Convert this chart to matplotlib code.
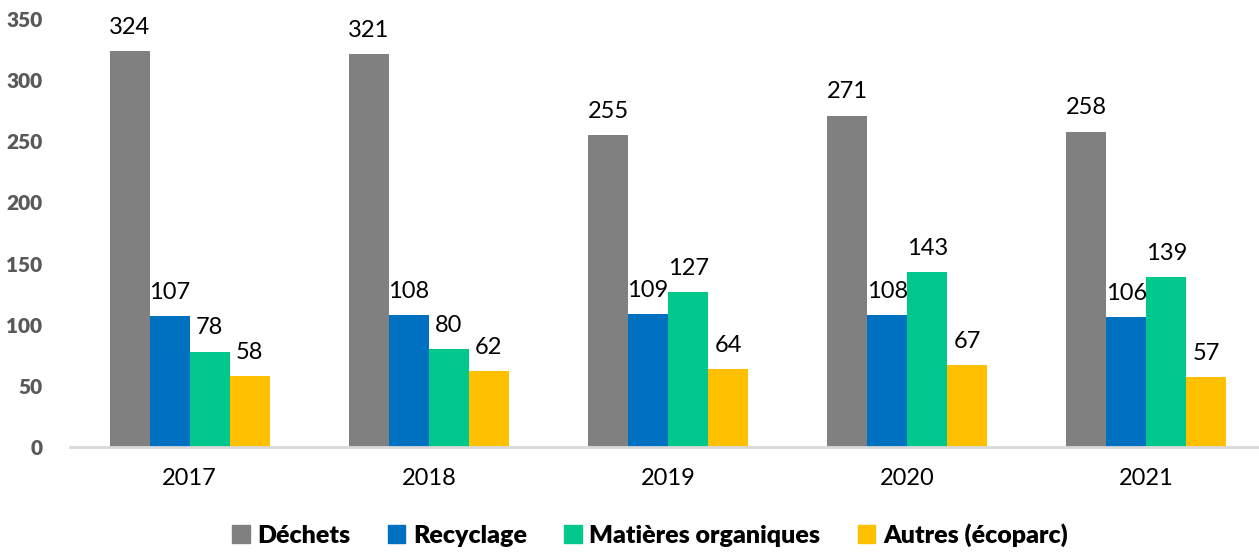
import numpy as np
import matplotlib.pyplot as plt
from matplotlib.patches import Patch

plt.rcParams['font.family'] = ['Lato', 'DejaVu Sans']

years = ["2017", "2018", "2019", "2020", "2021"]
series = ["Déchets", "Recyclage", "Matières organiques", "Autres (écoparc)"]
dechets = [324, 321, 255, 271, 258]
recyclage = [107, 108, 109, 108, 106]
organiques = [78, 80, 127, 143, 139]
autres = [58, 62, 64, 67, 57]
colors = ["#808080", "#0070C0", "#00C78C", "#FFC000"]

W, H = 1259, 552
fig = plt.figure(figsize=(W / 100, H / 100), dpi=100)
ax = fig.add_axes([70 / W, (H - 447) / H, 1196 / W, 428 / H])

x = np.arange(len(years))
bw = 40 / 239
for i, (vals, c) in enumerate(zip([dechets, recyclage, organiques, autres], colors)):
    pos = x + (i - 1.5) * bw
    bars = ax.bar(pos, vals, width=bw, color=c, linewidth=0)
    for b, v in zip(bars, vals):
        ax.annotate(str(v), (b.get_x() + b.get_width() / 2, v), xytext=(0, 9.5),
                    textcoords="offset points", ha="center", va="bottom",
                    fontsize=17, color="black")

ax.set_xlim(-0.5, 4.5)
ax.set_ylim(0, 350)
ax.set_yticks(range(0, 351, 50))
ax.set_xticks(x)
ax.set_xticklabels(years)
for s in ["top", "right", "left"]:
    ax.spines[s].set_visible(False)
ax.spines["bottom"].set_color("#D9D9D9")
ax.spines["bottom"].set_linewidth(2)
ax.tick_params(axis="x", length=0, pad=15, labelsize=17, labelcolor="black")
ax.tick_params(axis="y", length=0, pad=20, labelsize=15, labelcolor="#595959")
for t in ax.get_yticklabels():
    t.set_fontweight("heavy")

handles = [Patch(color=c, label=s) for s, c in zip(series, colors)]
fig.legend(handles=handles, loc="center", bbox_to_anchor=(650 / W, 1 - 535 / H),
           ncol=4, frameon=False, prop={"weight": "heavy", "size": 18},
           handlelength=0.7, handleheight=0.7, handletextpad=0.3, columnspacing=1.5)

fig.savefig("out.png", dpi=100)
